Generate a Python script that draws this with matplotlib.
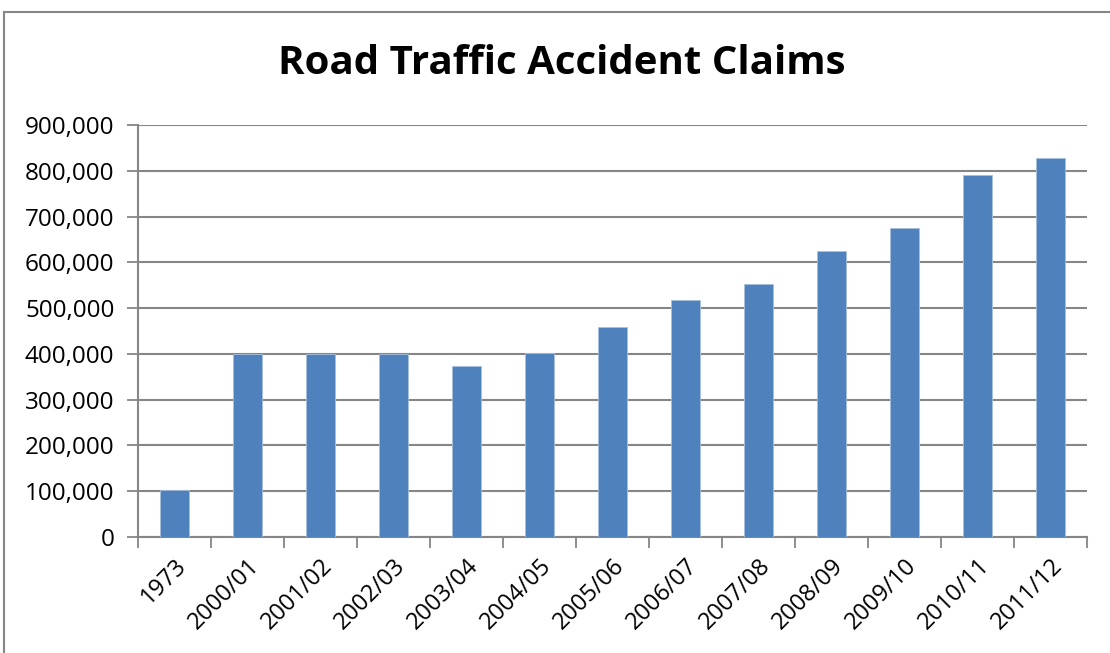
import matplotlib
matplotlib.use("Agg")
import matplotlib.pyplot as plt
from matplotlib.lines import Line2D
from matplotlib.ticker import FuncFormatter, MultipleLocator

# values
periods = ["1973", "2000/01", "2001/02", "2002/03", "2003/04", "2004/05", "2005/06",
           "2006/07", "2007/08", "2008/09", "2009/10", "2010/11", "2011/12"]
claims = [102500, 400000, 399500, 399000, 374600, 402500, 459700,
          518700, 551900, 625100, 675100, 791000, 828500]

W, H = 1110, 653
fig = plt.figure(figsize=(W / 100, H / 100), dpi=100)
ax = fig.add_axes([138 / W, 1 - 537 / H, (1087 - 138) / W, (537 - 125) / H])

x = range(len(periods))
ax.bar(x, claims, width=0.4, color="#4F81BD", edgecolor="#A7C0DE", linewidth=0.6, zorder=3)

ax.set_xlim(-0.5, len(periods) - 0.5)
ax.set_ylim(0, 900000)
ax.yaxis.set_major_locator(MultipleLocator(100000))
ax.yaxis.set_major_formatter(FuncFormatter(lambda v, p: f"{int(v):,}"))
ax.grid(axis="y", color="#868686", linewidth=1.5, zorder=0)

# category boundaries as tick marks, labels centred on bars
ax.set_xticks([i - 0.5 for i in range(len(periods) + 1)])
ax.set_xticklabels([])
ax.set_xticks(list(x), minor=True)
ax.set_xticklabels(periods, minor=True, rotation=45, ha="right", rotation_mode="anchor",
                   fontsize=17, family="Open Sans")
ax.tick_params(axis="x", which="major", length=8, width=1.3, color="#868686")
ax.tick_params(axis="x", which="minor", length=0, pad=12)
ax.tick_params(axis="y", length=8, width=1.3, color="#868686", labelsize=17.5, pad=9)
for lab in ax.get_yticklabels():
    lab.set_family("Open Sans")

for s in ["top", "right"]:
    ax.spines[s].set_visible(False)
for s in ["left", "bottom"]:
    ax.spines[s].set_color("#868686")
    ax.spines[s].set_linewidth(1.5)

fig.text(562 / W, 1 - 64 / H, "Road Traffic Accident Claims", ha="center", va="center",
         fontsize=29, fontweight="bold", family="Open Sans")

# outer chart-area border (left and top visible in the reference)
fig.add_artist(Line2D([4 / W, 4 / W], [0, 1 - 12 / H], transform=fig.transFigure,
                      color="#868686", linewidth=1.5))
fig.add_artist(Line2D([4 / W, 1], [1 - 12 / H, 1 - 12 / H], transform=fig.transFigure,
                      color="#868686", linewidth=1.5))

fig.savefig("out.png", dpi=100, facecolor="white")
